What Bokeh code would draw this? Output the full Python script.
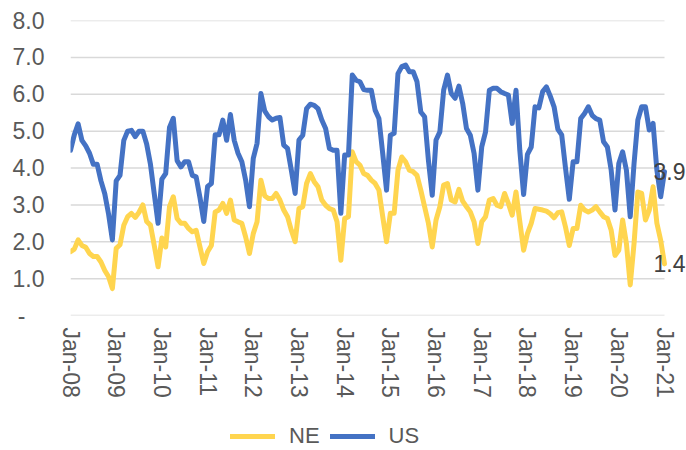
import numpy as np
from bokeh.plotting import figure
from bokeh.layouts import column
from bokeh.models import Range1d, FixedTicker, Legend, LegendItem, Label
from bokeh.embed import file_html
from bokeh.resources import INLINE

tick_labels = ["Jan-08", "Jan-09", "Jan-10", "Jan-11", "Jan-12", "Jan-13", "Jan-14",
               "Jan-15", "Jan-16", "Jan-17", "Jan-18", "Jan-19", "Jan-20", "Jan-21"]
y_tick_values = [0, 1, 2, 3, 4, 5, 6, 7, 8]

ne = [1.73, 1.80, 2.05, 1.90, 1.85, 1.68, 1.60, 1.60, 1.45, 1.22, 1.05, 0.73,
      1.82, 1.92, 2.45, 2.68, 2.77, 2.66, 2.80, 3.00, 2.55, 2.45, 1.90, 1.32,
      2.10, 1.86, 2.95, 3.22, 2.63, 2.50, 2.50, 2.36, 2.27, 2.31, 1.86, 1.41,
      1.73, 1.90, 2.81, 2.86, 3.04, 2.77, 3.13, 2.59, 2.54, 2.50, 2.13, 1.68,
      2.22, 2.54, 3.67, 3.25, 3.17, 3.17, 3.31, 3.13, 2.86, 2.68, 2.31, 2.00,
      2.90, 2.95, 3.58, 3.85, 3.63, 3.49, 3.13, 2.99, 2.90, 2.86, 2.54, 1.50,
      2.63, 2.68, 4.44, 4.17, 4.08, 3.85, 3.80, 3.67, 3.58, 3.40, 2.68, 2.00,
      2.77, 2.77, 3.94, 4.30, 4.17, 3.94, 3.90, 3.80, 3.40, 2.95, 2.50, 1.86,
      2.59, 2.95, 3.54, 3.58, 3.13, 3.08, 3.42, 3.10, 2.95, 2.81, 2.54, 1.95,
      2.54, 2.68, 3.13, 3.17, 2.99, 2.95, 3.31, 3.04, 2.72, 3.35, 2.55, 1.77,
      2.22, 2.50, 2.90, 2.88, 2.86, 2.83, 2.76, 2.65, 2.79, 2.81, 2.40, 1.90,
      2.36, 2.36, 2.99, 2.86, 2.81, 2.86, 2.95, 2.81, 2.68, 2.63, 2.31, 1.63,
      1.77, 2.59, 1.95, 0.83, 1.95, 3.35, 3.31, 2.59, 2.86, 3.49, 2.50, 2.04,
      1.40]

us = [4.48, 4.90, 5.20, 4.75, 4.60, 4.40, 4.10, 4.10, 3.65, 3.30, 2.75, 2.05,
      3.65, 3.80, 4.75, 5.00, 5.02, 4.85, 5.00, 5.00, 4.65, 4.10, 3.30, 2.50,
      3.70, 3.85, 5.10, 5.35, 4.20, 4.03, 4.17, 4.17, 3.80, 3.76, 3.20, 2.55,
      3.50, 3.58, 4.90, 4.90, 5.30, 4.75, 5.45, 4.75, 4.40, 4.17, 3.67, 2.95,
      4.26, 4.67, 6.02, 5.55, 5.39, 5.30, 5.35, 5.37, 4.62, 4.53, 3.94, 3.31,
      4.76, 4.89, 5.61, 5.73, 5.70, 5.61, 5.30, 5.07, 4.53, 4.48, 4.48, 2.77,
      4.35, 4.35, 6.52, 6.38, 6.34, 6.13, 6.11, 6.11, 5.57, 5.34, 4.39, 3.40,
      4.89, 4.94, 6.56, 6.75, 6.79, 6.61, 6.61, 6.34, 5.52, 5.39, 4.21, 3.26,
      4.76, 4.98, 6.11, 6.52, 6.02, 5.89, 6.22, 5.75, 5.07, 4.89, 4.39, 3.40,
      4.57, 4.98, 6.11, 6.16, 6.16, 6.07, 6.02, 5.98, 5.21, 6.11, 4.48, 3.28,
      4.37, 4.57, 5.66, 5.63, 6.07, 6.20, 5.95, 5.66, 5.05, 4.90, 4.00, 3.15,
      4.17, 4.17, 5.34, 5.48, 5.66, 5.43, 5.34, 5.30, 4.71, 4.57, 3.94, 2.86,
      4.12, 4.44, 3.94, 2.68, 4.12, 5.30, 5.66, 5.66, 5.03, 5.21, 3.94, 3.22,
      3.90]

months = list(range(len(ne)))

FONT = "Liberation Sans"
TXT = "#595959"
NE_COLOR = "#FFD54F"
US_COLOR = "#4472C4"
GRID = "#D9D9D9"
LW = 5

# layout: data area 594 px wide; frame extends 22 px further right for the end labels
DATA_W, FRAME_W = 594, 616
x_end = months[-1] * FRAME_W / DATA_W

p = figure(width=686, height=400, output_backend="svg", toolbar_location=None,
           x_range=Range1d(0, x_end), y_range=Range1d(0, 8),
           min_border_left=70, min_border_right=0, min_border_top=20,
           min_border_bottom=85)
p.outline_line_color = None
p.background_fill_color = "white"
p.border_fill_color = "white"
p.xgrid.grid_line_color = None
p.ygrid.grid_line_color = None

# horizontal gridlines over the data span only
p.segment(x0=[months[0]] * len(y_tick_values), x1=[months[-1]] * len(y_tick_values),
          y0=y_tick_values, y1=y_tick_values, line_color=GRID, line_width=1.5)

# x axis
p.xaxis.ticker = FixedTicker(ticks=[12 * k for k in range(len(tick_labels))])
p.xaxis.major_label_overrides = {12 * k: lab for k, lab in enumerate(tick_labels)}
p.xaxis.major_label_orientation = "vertical"
p.xaxis.axis_line_color = None
p.xaxis.major_tick_line_color = None
p.xaxis.minor_tick_line_color = None
p.xaxis.major_tick_out = 0
p.xaxis.major_tick_in = 0
p.xaxis.major_label_standoff = 12
p.xaxis.major_label_text_font = FONT
p.xaxis.major_label_text_font_size = "23px"
p.xaxis.major_label_text_color = TXT

# y axis
p.yaxis.ticker = FixedTicker(ticks=y_tick_values)
ylab = {v: f"{v:.1f}" for v in y_tick_values}
ylab[0] = "-\u2008\u2007"
p.yaxis.major_label_overrides = ylab
p.yaxis.axis_line_color = None
p.yaxis.major_tick_line_color = None
p.yaxis.minor_tick_line_color = None
p.yaxis.major_tick_out = 0
p.yaxis.major_tick_in = 0
p.yaxis.major_label_standoff = 26
p.yaxis.major_label_text_font = FONT
p.yaxis.major_label_text_font_size = "23px"
p.yaxis.major_label_text_color = TXT

p.line(months, ne, line_color=NE_COLOR, line_width=LW,
       line_join="round", line_cap="round")
p.line(months, us, line_color=US_COLOR, line_width=LW,
       line_join="round", line_cap="round")

# data labels at the last point
for series in (us, ne):
    p.add_layout(Label(x=months[-1], y=series[-1], text=f"{series[-1]:.1f}",
                       x_offset=-11, text_align="left", text_baseline="middle",
                       text_font=FONT, text_font_size="23px", text_color="#404040"))

# legend strip below the chart
q = figure(width=686, height=50, output_backend="svg", toolbar_location=None,
           x_range=Range1d(0, 1), y_range=Range1d(0, 1),
           x_axis_type=None, y_axis_type=None,
           min_border_left=0, min_border_right=0, min_border_top=0, min_border_bottom=0)
q.outline_line_color = None
q.xgrid.grid_line_color = None
q.ygrid.grid_line_color = None
blank = np.array([np.nan])
l_ne = q.line(x=blank, y=blank, line_color=NE_COLOR, line_width=LW, line_cap="round")
l_us = q.line(x=blank, y=blank, line_color=US_COLOR, line_width=LW, line_cap="round")
legend = Legend(items=[LegendItem(label="NE", renderers=[l_ne]),
                       LegendItem(label="US", renderers=[l_us])],
                orientation="horizontal", location=(160, 1),
                padding=0, margin=0, spacing=10, glyph_width=45,
                label_standoff=14, border_line_color=None,
                background_fill_alpha=0,
                label_text_font=FONT, label_text_font_size="22px",
                label_text_color=TXT)
q.add_layout(legend)

layout = column(p, q, spacing=0)
open("out.html", "w").write(file_html(layout, INLINE))
